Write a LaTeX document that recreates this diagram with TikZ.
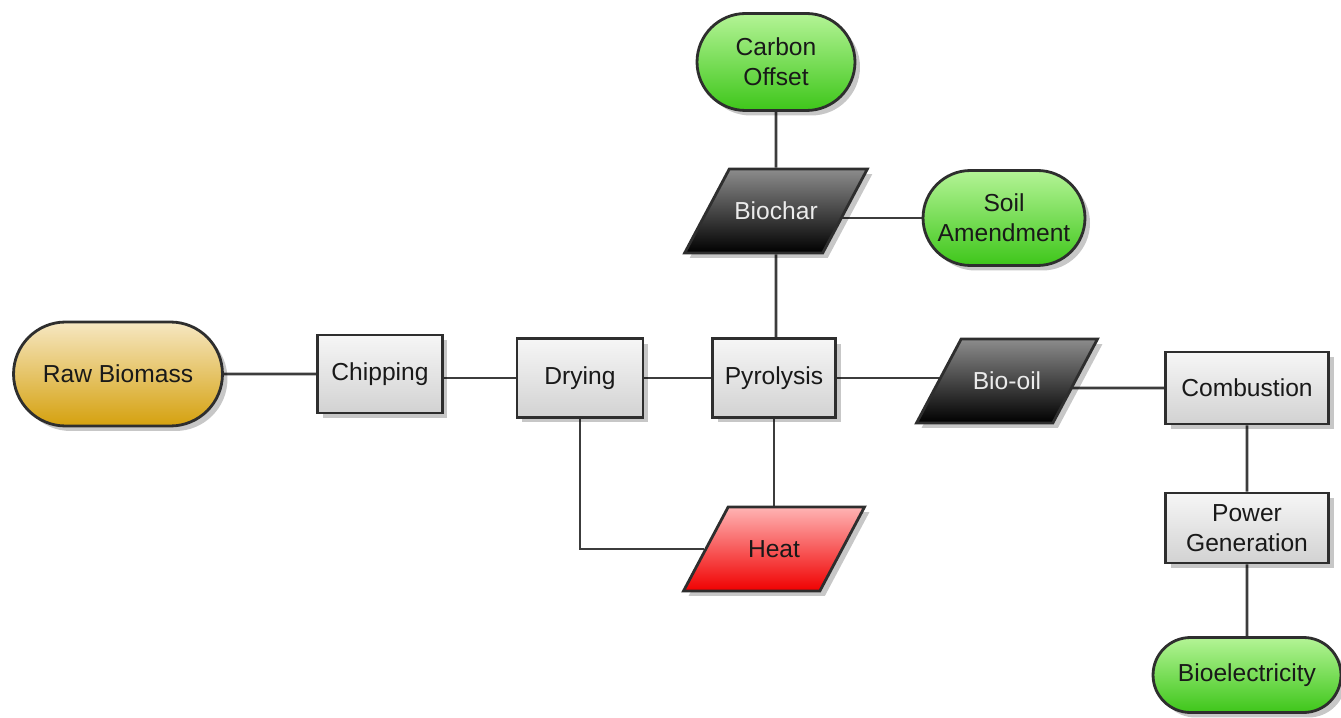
\documentclass[tikz,border=0pt]{standalone}
\usepackage{fontspec}
\setmainfont{Liberation Sans}
\usetikzlibrary{shapes.geometric,shapes.misc,shadows,backgrounds}
\definecolor{rimgray}{HTML}{2E2E2E}
\definecolor{wiregray}{HTML}{3C3C3C}
\definecolor{boxtop}{HTML}{F6F6F6}
\definecolor{boxbot}{HTML}{D2D2D2}
\definecolor{goldtop}{HTML}{F6E7C2}
\definecolor{goldbot}{HTML}{D5A10E}
\definecolor{greentop}{HTML}{B4F496}
\definecolor{greenbot}{HTML}{3EC61A}
\definecolor{darktop}{HTML}{8C8C8C}
\definecolor{darkbot}{HTML}{000000}
\definecolor{redtop}{HTML}{FFB4B4}
\definecolor{redbot}{HTML}{F00000}
\tikzset{
  flowbase/.style={draw=rimgray, line width=1.6pt, font=\fontsize{14}{17}\selectfont,
    align=center, inner sep=0pt,
    drop shadow={shadow xshift=0.1cm, shadow yshift=-0.1cm, fill=black, opacity=0.22}},
  procbox/.style={flowbase, rectangle, top color=boxtop, bottom color=boxbot, text=black!90},
  endcap/.style={flowbase, rounded rectangle, top color=greentop, bottom color=greenbot, text=black!90},
  rawcap/.style={endcap, top color=goldtop, bottom color=goldbot},
  datapara/.style={flowbase, trapezium, trapezium left angle=62, trapezium right angle=118,
    trapezium stretches body=true, text height=0.36cm, text depth=0cm,
    inner ysep=0.66cm, inner xsep=0.1cm, minimum width=3.62cm,
    top color=darktop, bottom color=darkbot, text=black!8},
  heatpara/.style={datapara, top color=redtop, bottom color=redbot, text=black!90},
  link/.style={draw=wiregray, line width=1.5pt}
}
\begin{document}
\begin{tikzpicture}[x=0.02cm, y=0.02cm]
\useasboundingbox (0,0) rectangle (1341,717);
\node[rawcap, minimum width=4.18cm, minimum height=2.08cm] (raw) at (118,343) {Raw Biomass};
\node[procbox, minimum width=2.5cm, minimum height=1.56cm] (chip) at (380,343) {Chipping};
\node[procbox, minimum width=2.52cm, minimum height=1.58cm] (dry) at (580,339) {Drying};
\node[procbox, minimum width=2.46cm, minimum height=1.58cm] (pyro) at (774,339) {Pyrolysis};
\node[datapara] (oil) at (1007,336) {Bio-oil};
\node[procbox, minimum width=3.26cm, minimum height=1.44cm] (comb) at (1247,329) {Combustion};
\node[procbox, minimum width=3.26cm, minimum height=1.4cm] (power) at (1247,189) {Power\\Generation};
\node[endcap, minimum width=3.76cm, minimum height=1.5cm] (elec) at (1247,42) {Bioelectricity};
\node[heatpara] (heat) at (774,168) {Heat};
\node[datapara] (char) at (776,506) {Biochar};
\node[endcap, minimum width=3.16cm, minimum height=1.94cm] (offset) at (776,655) {Carbon\\Offset};
\node[endcap, minimum width=3.24cm, minimum height=1.9cm] (soil) at (1004,499) {Soil\\Amendment};
\begin{scope}[on background layer]
\draw[link] (raw) -- (chip);
\draw[link] (chip |- dry) -- (dry) -- (pyro) -- (pyro -| oil);
\draw[link] (oil |- comb) -- (comb) -- (power) -- (elec);
\draw[link] (offset) -- (char) -- (char |- pyro);
\draw[link] (char |- soil) -- (soil);
\draw[link] (pyro) -- (pyro |- heat);
\draw[link] (dry) |- (heat);
\end{scope}
\end{tikzpicture}
\end{document}
